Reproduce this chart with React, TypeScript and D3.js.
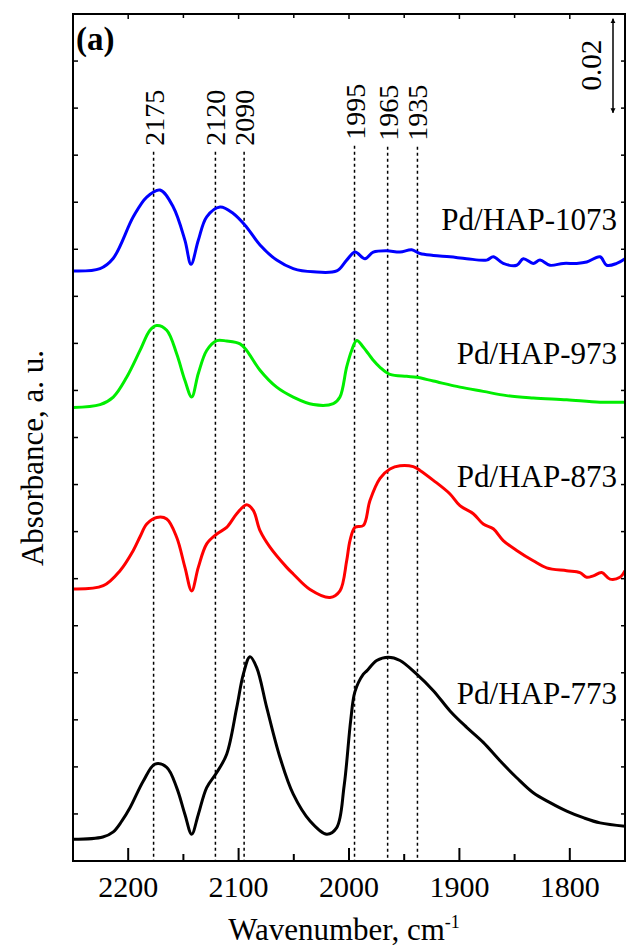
import React from 'react';
import * as d3 from 'd3';

// IR spectra of CO adsorbed on Pd/HAP samples
const pd773: [number, number][] = [
  [2250, 0.0046], [2223, 0.0051], [2213.5, 0.0062], [2206, 0.0084], [2198.4, 0.0113],
  [2186.3, 0.0170], [2175.7, 0.0206], [2165.1, 0.0199], [2156.1, 0.0156], [2148.6, 0.0099],
  [2142.5, 0.0057], [2136.5, 0.0099], [2128.9, 0.0156], [2119.8, 0.0188], [2110.8, 0.0227],
  [2101.7, 0.0326], [2095.7, 0.0397], [2089.7, 0.0434], [2083.6, 0.0411], [2074.5, 0.0326],
  [2062.5, 0.0220], [2050.5, 0.0142], [2035.3, 0.0085], [2020.2, 0.0057], [2011.1, 0.0071],
  [2004.4, 0.0160], [1998.4, 0.0300], [1994.6, 0.0360], [1987, 0.0397], [1983.9, 0.0404],
  [1974.9, 0.0426], [1964.4, 0.0433], [1953.8, 0.0426], [1938.7, 0.0397], [1923.6, 0.0362],
  [1908.5, 0.0319], [1893.4, 0.0284], [1878.4, 0.0252], [1863.2, 0.0213], [1848.1, 0.0177],
  [1833.1, 0.0145], [1817.9, 0.0124], [1802.8, 0.0106], [1787.8, 0.0092], [1772.6, 0.0081],
  [1750, 0.0074],
];

const pd873: [number, number][] = [
  [2250, 0.0578], [2222.6, 0.0585], [2207.4, 0.0617], [2195.4, 0.0660], [2189.3, 0.0689],
  [2183.2, 0.0716], [2174.2, 0.0730], [2165.1, 0.0727], [2156.1, 0.0688], [2148.6, 0.0624],
  [2142.5, 0.0574], [2136.5, 0.0624], [2128.9, 0.0674], [2119.8, 0.0695], [2110.8, 0.0709],
  [2101.7, 0.0738], [2092.7, 0.0757], [2086.7, 0.0745], [2080.6, 0.0702], [2071.6, 0.0667],
  [2056.4, 0.0624], [2050.5, 0.0610], [2035.3, 0.0577], [2017.2, 0.0560], [2008.2, 0.0574],
  [2002.1, 0.0638], [1999.1, 0.0681], [1994.6, 0.0709], [1987, 0.0713], [1981, 0.0766],
  [1971.9, 0.0813], [1962.9, 0.0833], [1953.8, 0.0840], [1941.8, 0.0838], [1935.7, 0.0830],
  [1923.6, 0.0809], [1908.5, 0.0780], [1899.5, 0.0755], [1887.4, 0.0738], [1878.4, 0.0716],
  [1869.3, 0.0706], [1860.3, 0.0681], [1848.1, 0.0660], [1833.1, 0.0638], [1821, 0.0623],
  [1802.8, 0.0617], [1790.8, 0.0613], [1784.7, 0.0603], [1778.7, 0.0606], [1771.1, 0.0613],
  [1763.6, 0.0599], [1754.6, 0.0603], [1750, 0.0617],
];

const pd973: [number, number][] = [
  [2250, 0.0964], [2225.5, 0.0970], [2213.5, 0.0986], [2201.4, 0.1028], [2189.3, 0.1085],
  [2180.3, 0.1128], [2174.2, 0.1138], [2165.1, 0.1128], [2156.1, 0.1078], [2148.6, 0.1021],
  [2142.5, 0.0986], [2136.5, 0.1036], [2128.9, 0.1085], [2119.8, 0.1106], [2110.8, 0.1105],
  [2098.7, 0.1099], [2092.7, 0.1085], [2080.6, 0.1043], [2065.5, 0.1007], [2050.5, 0.0986],
  [2032.3, 0.0970], [2014.2, 0.0972], [2008.2, 0.0986], [2002.1, 0.1050], [1997.6, 0.1085],
  [1993, 0.1106], [1987, 0.1092], [1978, 0.1064], [1971.9, 0.1049], [1962.9, 0.1034],
  [1947.7, 0.1030], [1938.7, 0.1028], [1923.6, 0.1020], [1899.5, 0.1007], [1878.4, 0.0998],
  [1857.2, 0.0989], [1833.1, 0.0984], [1802.8, 0.0980], [1772.6, 0.0975], [1750, 0.0975],
];

const pd1073: [number, number][] = [
  [2250, 0.1254], [2225.5, 0.1259], [2213.5, 0.1281], [2195.4, 0.1369], [2183.2, 0.1411],
  [2171.2, 0.1426], [2159.2, 0.1390], [2148.6, 0.1319], [2143.1, 0.1268], [2136.5, 0.1319],
  [2128.9, 0.1369], [2116.8, 0.1390], [2104.8, 0.1376], [2092.7, 0.1347], [2080.6, 0.1309],
  [2065.5, 0.1277], [2050.5, 0.1259], [2032.3, 0.1252], [2011.1, 0.1254], [2002.1, 0.1277],
  [1994.6, 0.1294], [1985.5, 0.1280], [1978, 0.1294], [1965.8, 0.1297], [1953.8, 0.1294],
  [1943.2, 0.1299], [1935.7, 0.1291], [1923.6, 0.1287], [1908.5, 0.1284], [1893.4, 0.1280],
  [1875.3, 0.1277], [1869.3, 0.1284], [1860.3, 0.1270], [1848.1, 0.1266], [1842.1, 0.1280],
  [1833.1, 0.1270], [1827, 0.1277], [1818, 0.1266], [1805.9, 0.1270], [1793.8, 0.1270],
  [1784.7, 0.1273], [1772.6, 0.1284], [1766.6, 0.1266], [1757.5, 0.1270], [1750, 0.1280],
];

const seriesNames = ['Pd/HAP-773', 'Pd/HAP-873', 'Pd/HAP-973', 'Pd/HAP-1073'];
const seriesColors = ['#000000', '#ff0000', '#00ee00', '#0000ff'];
const seriesData = [pd773, pd873, pd973, pd1073];
const labelLevels = [0.0334, 0.0794, 0.1057, 0.1340];

// dotted guide lines: label text and where the line sits
const peakLabels = ['2175', '2120', '2090', '1995', '1965', '1935'];
const peakPositions = [2177, 2121, 2095, 1995, 1965, 1938];
const peakTops = [0.1507, 0.1507, 0.1507, 0.1520, 0.1518, 0.1518];

const xTicks = [2200, 2100, 2000, 1900, 1800];
const xMinorTicks = [2150, 2050, 1950, 1850];
const yTicks = d3.range(1, 18).map(i => i * 0.01);

const W = 626;
const H = 948;
const left = 73, right = 625, top = 14, bottom = 861;
const font = '"Liberation Serif", "Times New Roman", serif';

const App: React.FC = () => {
  const x = d3.scaleLinear().domain([2250, 1750]).range([left, right]);
  const y = d3.scaleLinear().domain([0, 0.18]).range([bottom, top]);

  const line = d3.line<[number, number]>()
    .x(d => x(d[0]))
    .y(d => y(d[1]))
    .curve(d3.curveCatmullRom.alpha(0.5));

  return (
    <svg width={W} height={H} style={{ position: 'absolute', left: 0, top: 0, background: '#fff' }}
      fontFamily={font}>
      {/* guide lines */}
      {peakPositions.map((p, i) => (
        <line key={'g' + i} x1={x(p)} x2={x(p)} y1={y(peakTops[i])} y2={bottom}
          stroke="#000" strokeWidth={1.5} strokeDasharray="3,3" />
      ))}
      {peakPositions.map((p, i) => (
        <text key={'pl' + i} transform={`translate(${x(p) + 10},${y(peakTops[i]) - 6}) rotate(-90)`}
          fontSize={28}>{peakLabels[i]}</text>
      ))}

      {/* spectra */}
      {seriesData.map((s, i) => (
        <path key={'s' + i} d={line(s) || ''} fill="none" stroke={seriesColors[i]}
          strokeWidth={3} strokeLinejoin="round" />
      ))}
      {seriesNames.map((n, i) => (
        <text key={'n' + i} x={617} y={y(labelLevels[i])} textAnchor="end" fontSize={31}>{n}</text>
      ))}

      {/* ticks */}
      {xTicks.map(t => (
        <g key={'xt' + t}>
          <line x1={x(t)} x2={x(t)} y1={bottom} y2={bottom - 13} stroke="#000" strokeWidth={2} />
          <line x1={x(t)} x2={x(t)} y1={top} y2={top + 5} stroke="#000" strokeWidth={1.5} />
          <text x={x(t)} y={897} textAnchor="middle" fontSize={30}>{t}</text>
        </g>
      ))}
      {xMinorTicks.map(t => (
        <g key={'xm' + t}>
          <line x1={x(t)} x2={x(t)} y1={bottom} y2={bottom - 7} stroke="#000" strokeWidth={2} />
          <line x1={x(t)} x2={x(t)} y1={top} y2={top + 4} stroke="#000" strokeWidth={1.5} />
        </g>
      ))}
      {yTicks.map((t, i) => (
        <g key={'yt' + i}>
          <line x1={left} x2={left + 5} y1={y(t)} y2={y(t)} stroke="#000" strokeWidth={1.5} />
          <line x1={right} x2={right - 4} y1={y(t)} y2={y(t)} stroke="#000" strokeWidth={1.5} />
        </g>
      ))}

      {/* frame */}
      <rect x={left} y={top} width={right - left} height={bottom - top} fill="none"
        stroke="#000" strokeWidth={2} />

      {/* scale bar */}
      <defs>
        <marker id="arr" viewBox="0 0 10 10" refX={9} refY={5} markerWidth={5} markerHeight={7}
          orient="auto-start-reverse" markerUnits="userSpaceOnUse">
          <path d="M0,0 L10,5 L0,10 z" fill="#000" />
        </marker>
      </defs>
      <line x1={613} x2={613} y1={y(0.1790)} y2={y(0.1590)} stroke="#000" strokeWidth={1.5}
        markerStart="url(#arr)" markerEnd="url(#arr)" />
      <text transform={`translate(${601},${65}) rotate(-90)`} textAnchor="middle" fontSize={29}>0.02</text>

      {/* panel tag */}
      <text x={76} y={50} fontSize={33} fontWeight="bold">(a)</text>

      {/* axis titles */}
      <text x={344} y={940} textAnchor="middle" fontSize={31}>
        Wavenumber, cm<tspan dy={-12} fontSize={18}>-1</tspan>
      </text>
      <text transform={`translate(${43},${458}) rotate(-90)`} textAnchor="middle" fontSize={31}>
        Absorbance, a. u.
      </text>
    </svg>
  );
};

export default App;
